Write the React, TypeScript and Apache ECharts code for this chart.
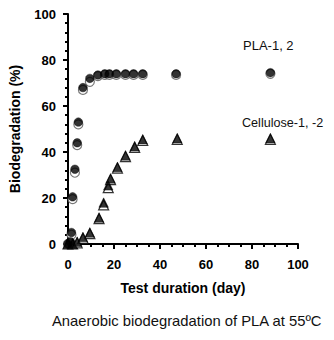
import React, { useEffect, useRef } from "react";
import * as echarts from "echarts";

const plaDays = [0, 1, 1.5, 2, 3, 4, 4.5, 6.5, 9.5, 13, 16, 18, 21, 25, 28.5, 32.5, 47, 88];
const pla1 = [0, 1, 5, 20.5, 32.5, 44, 53, 68, 72, 73.5, 74, 74, 74, 74, 74, 74, 74, 74.5];
const pla2 = [0, 0.5, 4, 19.5, 31, 43, 52, 67, 70.5, 73, 73.5, 73.5, 73.5, 73.5, 73.5, 73.5, 73.5, 74];

const celDays = [0, 2, 4, 6.5, 9.5, 13.5, 15.5, 17.5, 18.5, 21.5, 25, 29, 32.5, 47.5, 88];
const cel1 = [0, 0, 1, 3, 5, 11.5, 18, 25.5, 28.5, 33.5, 38.5, 42.5, 45.5, 46, 46];
const cel2 = [0, 0, 0.5, 2.5, 4.5, 11, 17, 24.5, 28, 33, 38, 42, 45, 45.5, 45.5];

const xTicks = { min: 0, max: 100, interval: 20 };
const yTicks = { min: 0, max: 100, interval: 20 };

const FONT = "'Liberation Sans', Arial, sans-serif";

function pairs(xs: number[], ys: number[]) {
  return xs.map((x, i) => [x, ys[i]]);
}

export default function App() {
  const ref = useRef<HTMLDivElement>(null);
  useEffect(() => {
    if (!ref.current) return;
    const chart = echarts.init(ref.current, null, { renderer: "svg" });
    const axisCommon = {
      axisLine: { show: true, lineStyle: { color: "#000", width: 2 } },
      axisTick: { show: true, inside: false, length: 5, lineStyle: { color: "#000", width: 2 } },
      minorTick: { show: true, length: 3, lineStyle: { color: "#000", width: 2 } },
      splitLine: { show: false },
      minorSplitLine: { show: false },
      axisLabel: { color: "#000", fontWeight: "bold", fontSize: 13, fontFamily: FONT },
      nameTextStyle: { color: "#000", fontWeight: "bold", fontSize: 14, fontFamily: FONT },
      nameLocation: "middle",
    };
    chart.setOption({
      animation: false,
      backgroundColor: "#fff",
      grid: { left: 65, right: 36, top: 14, bottom: 96, containLabel: false },
      xAxis: {
        type: "value",
        ...xTicks,
        ...axisCommon,
        minorTick: { ...axisCommon.minorTick, splitNumber: 4 },
        axisLabel: { ...axisCommon.axisLabel, margin: 14 },
        name: "Test duration (day)",
        nameGap: 37,
      },
      yAxis: {
        type: "value",
        ...yTicks,
        ...axisCommon,
        minorTick: { ...axisCommon.minorTick, splitNumber: 5 },
        axisLabel: { ...axisCommon.axisLabel, margin: 12 },
        name: "Biodegradation (%)",
        nameGap: 46,
      },
      series: [
        {
          type: "scatter",
          name: "PLA-2",
          data: pairs(plaDays, pla2),
          symbol: "circle",
          symbolSize: 9,
          itemStyle: { color: "#fff", borderColor: "#555", borderWidth: 1.2 },
          z: 2,
        },
        {
          type: "scatter",
          name: "PLA-1",
          data: pairs(plaDays, pla1),
          symbol: "circle",
          symbolSize: 8.5,
          itemStyle: { color: "#000", borderColor: "#000", borderWidth: 0.5 },
          z: 3,
        },
        {
          type: "scatter",
          name: "Cellulose-2",
          data: pairs(celDays, cel2),
          symbol: "triangle",
          symbolSize: 10,
          itemStyle: { color: "#fff", borderColor: "#000", borderWidth: 1.2 },
          z: 2,
        },
        {
          type: "scatter",
          name: "Cellulose-1",
          data: pairs(celDays, cel1),
          symbol: "triangle",
          symbolSize: 9.5,
          itemStyle: { color: "#000", borderColor: "#000", borderWidth: 0.5 },
          z: 3,
        },
      ],
      graphic: [
        {
          type: "text",
          left: 243,
          top: 39,
          style: { text: "PLA-1, 2", fill: "#111", fontSize: 13, fontFamily: FONT },
        },
        {
          type: "text",
          left: 242,
          top: 116,
          style: { text: "Cellulose-1, -2", fill: "#111", fontSize: 12.6, fontFamily: FONT },
        },
        {
          type: "text",
          left: 52,
          top: 313,
          style: { text: "Anaerobic biodegradation of PLA at 55ºC", fill: "#111", fontSize: 14.8, fontFamily: FONT },
        },
      ],
    });
    return () => chart.dispose();
  }, []);
  return <div ref={ref} style={{ width: 334, height: 340, position: "absolute", left: 0, top: 0 }} />;
}
